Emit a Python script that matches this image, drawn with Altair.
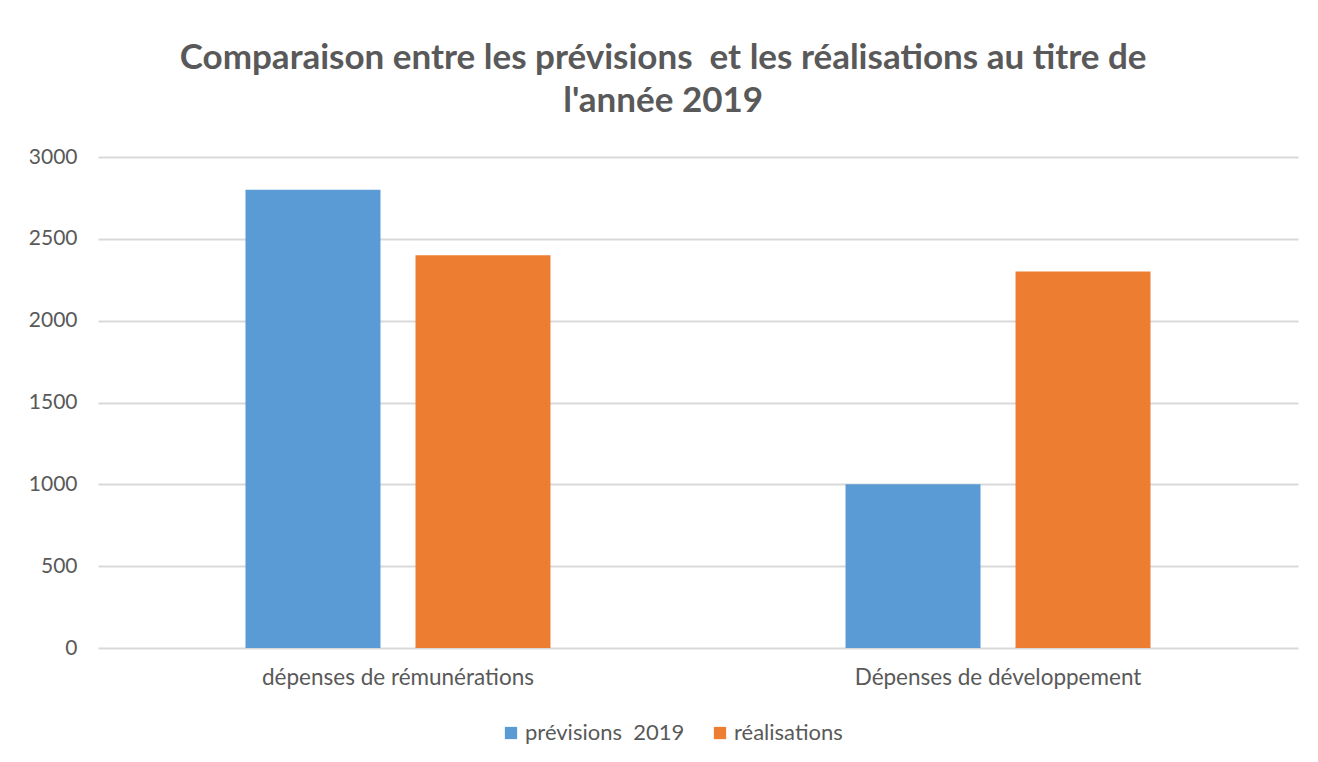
import altair as alt
import pandas as pd

categories = ["dépenses de rémunérations", "Dépenses de développement"]
series = ["prévisions\u00a0 2019", "réalisations"]
previsions = [2800, 1000]
realisations = [2400, 2300]
colors = ["#5B9BD5", "#ED7D31"]
y_ticks = [0, 500, 1000, 1500, 2000, 2500, 3000]
title_lines = ["Comparaison entre les prévisions\u00a0 et les réalisations au titre de", "l'année 2019"]

rows = []
for c, p, r in zip(categories, previsions, realisations):
    rows.append({"categorie": c, "serie": series[0], "valeur": p})
    rows.append({"categorie": c, "serie": series[1], "valeur": r})
df = pd.DataFrame(rows)

FONT = "Lato"
TEXT = "#595959"

chart = alt.Chart(df).mark_bar().encode(
    x=alt.X("categorie:N", sort=categories, title=None,
            scale=alt.Scale(paddingInner=0.4917, paddingOuter=0.2458),
            axis=alt.Axis(labelAngle=0, domain=False, ticks=False, labelPadding=18,
                          labelLimit=0, labelFontSize=22.5, labelColor=TEXT, labelFont=FONT)),
    xOffset=alt.XOffset("serie:N", sort=series,
                        scale=alt.Scale(paddingInner=0.206, paddingOuter=0)),
    y=alt.Y("valeur:Q", title=None, scale=alt.Scale(domain=[0, 3000], nice=False),
            axis=alt.Axis(values=y_ticks, format="d", domain=False, ticks=False, labelPadding=21,
                          gridColor="#D9D9D9", gridWidth=2, labelFontSize=21,
                          labelColor=TEXT, labelFont=FONT)),
    color=alt.Color("serie:N", sort=series, scale=alt.Scale(domain=series, range=colors),
                    legend=alt.Legend(title=None, orient="none", direction="horizontal",
                                      legendX=402, legendY=565, symbolType="square",
                                      symbolSize=150, labelFontSize=22, labelFont=FONT,
                                      labelColor=TEXT, labelOffset=3, columnPadding=24,
                                      labelLimit=0, symbolStrokeWidth=0)),
).properties(
    width=1200, height=491,
    padding={"left": 90, "top": 149, "right": 10, "bottom": 100},
    autosize=alt.AutoSizeParams(type="none"),
    background="white",
    title=alt.TitleParams(text=title_lines, font=FONT, fontSize=35, fontWeight="bold",
                          color=TEXT, anchor="middle", frame="bounds", offset=27,
                          lineHeight=43),
).configure_view(stroke=None)

chart.save("out.html", embed_options={"renderer": "svg", "actions": False})
